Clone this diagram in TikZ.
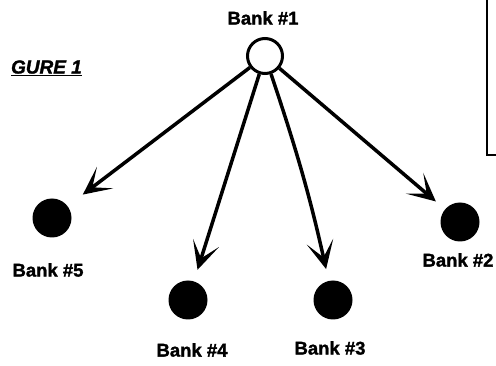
\documentclass[tikz,border=0pt]{standalone}
\usepackage{fontspec}
\setmainfont{Liberation Sans}
\usetikzlibrary{arrows.meta}
\begin{document}
\begin{tikzpicture}[x=1pt,y=-1pt,
  bankopen/.style={circle,draw=black,line width=3pt,fill=white,minimum size=35pt,inner sep=0pt},
  bankfull/.style={circle,fill=black,minimum size=39pt,inner sep=0pt},
  banklabel/.style={font=\bfseries\fontsize{18.5}{18.5}\selectfont\addfontfeature{FakeBold=1.5},inner sep=0pt},
  link/.style={line width=3.5pt,-{Stealth[length=28pt,width=27pt,inset=16pt]}},
  frame/.style={line width=2.5pt}]
\useasboundingbox (0,0) rectangle (496,366);
\fill[white] (0,0) rectangle (496,366);
% nodes
\node[bankopen] (b1) at (265,56) {};
\node[bankfull] (b5) at (52,218) {};
\node[bankfull] (b4) at (188,300) {};
\node[bankfull] (b3) at (333,300) {};
\node[bankfull] (b2) at (460,222) {};
% labels
\node[banklabel] (l1) at (263,18) {Bank \#1};
\node[banklabel] (l5) at (48,270) {Bank \#5};
\node[banklabel] (l4) at (192,350) {Bank \#4};
\node[banklabel] (l3) at (330,348) {Bank \#3};
\node[banklabel] (l2) at (458,260) {Bank \#2};
% figure caption
\node[anchor=east,inner sep=0pt,font=\bfseries\itshape\fontsize{19}{19}\selectfont\addfontfeature{FakeBold=1.5}] (fig) at (82,68) {\underline{GURE 1}};
% box at right
\coordinate (ft) at (487,0);
\coordinate (fc) at (487,155);
\coordinate (fr) at (496,155);
\draw[frame] (ft) -- (fc) -- (fr);
% arrows
\draw[link,shorten >=19pt] (b1) -- (b5);
\draw[link,shorten >=12pt] (b1) -- (b4);
\draw[link,shorten >=12pt] (b1) to[bend left=3] (b3);
\draw[link,shorten >=12pt] (b1) -- (b2);
\end{tikzpicture}
\end{document}
